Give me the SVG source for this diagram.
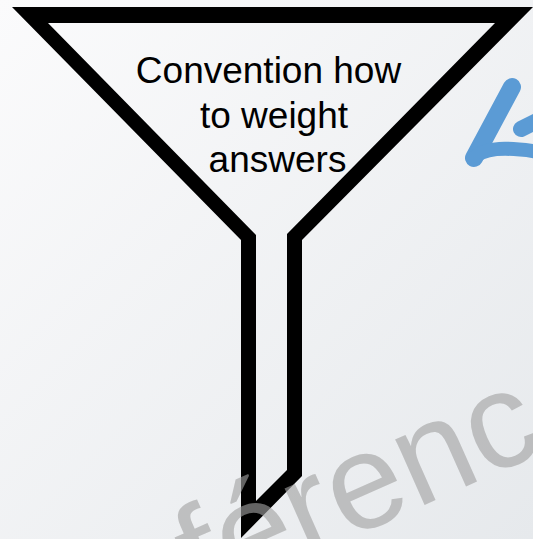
<svg xmlns="http://www.w3.org/2000/svg" width="533" height="539" viewBox="0 0 533 539">
<defs>
<linearGradient id="bg" x1="0" y1="0" x2="1" y2="1">
<stop offset="0" stop-color="#fbfbfc"/>
<stop offset="1" stop-color="#e6e9ec"/>
</linearGradient>
<style>
.lbl{font-family:"Liberation Sans",Arial,sans-serif;font-size:37px;fill:#000;text-anchor:middle}
.logo{fill:none;stroke:#5b9bd5;stroke-linecap:round;stroke-linejoin:round}
.wm{font-family:"Liberation Sans",Arial,sans-serif;font-size:136px;fill:#a2a2a2;fill-opacity:0.62}
</style>
</defs>
<rect width="533" height="539" fill="url(#bg)"/>
<g id="logo">
<path class="logo" stroke-width="18" d="M512,87 L474,158"/>
<path class="logo" stroke-width="14" d="M476,156 C486,148 505,146 545,153"/>
<path class="logo" stroke-width="16" d="M521,129 L545,117"/>
</g>
<g id="funnel">
<path fill="#000" fill-rule="evenodd" d="M12,7 L533,7 L302,240 L302,476 L241,538 L241,240 Z M48,23 L495,23 L287,234 L287,470 L256,501 L256,235 Z"/>
<text class="lbl" x="268.5" y="83">Convention how</text>
<text class="lbl" x="274" y="127.5">to weight</text>
<text class="lbl" x="277.5" y="172">answers</text>
</g>
<g id="connectors"/>
<text class="wm" transform="translate(202,604) rotate(-24)">férence</text>
</svg>
